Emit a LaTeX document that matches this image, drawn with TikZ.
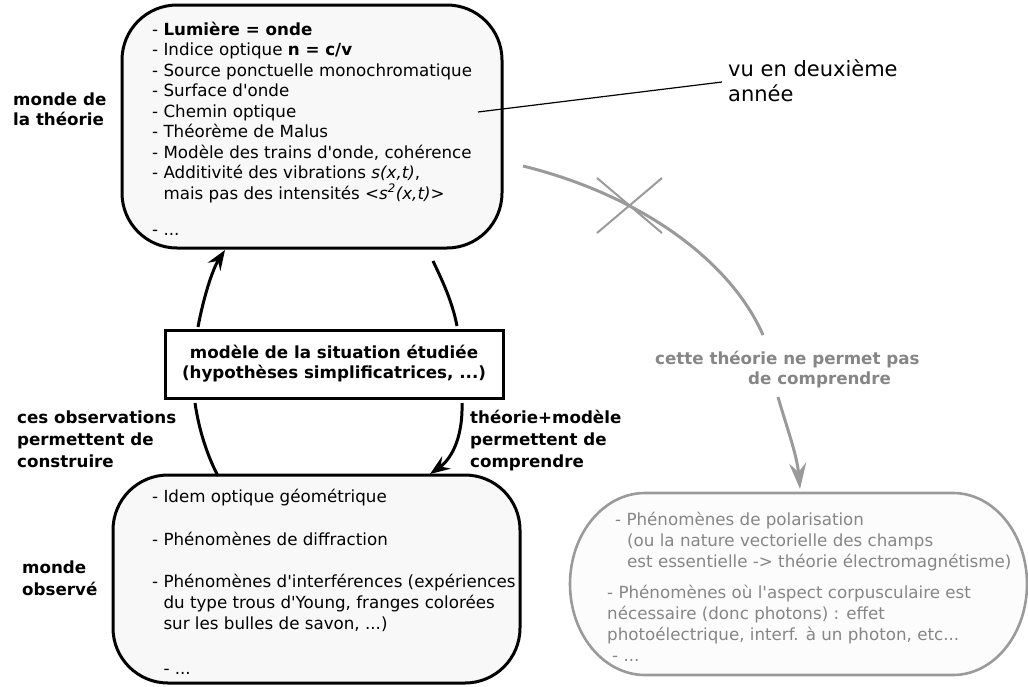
\documentclass[tikz,border=0pt]{standalone}
\usepackage{fontspec}
\setmainfont{DejaVu Sans}[Ligatures=TeXOff, BoldFont={DejaVu Sans Bold}, ItalicFont={DejaVu Sans Oblique}, BoldItalicFont={DejaVu Sans Bold Oblique}]
\usetikzlibrary{arrows.meta}
\definecolor{lgray}{HTML}{9A9A9A}
\definecolor{tgray}{HTML}{868686}
\definecolor{boxfill}{HTML}{F8F8F8}
\definecolor{pfill}{HTML}{FCFCFC}
\newcommand{\fl}{\rule{0pt}{14pt}}
\begin{document}
\begin{tikzpicture}[x=1pt,y=-1pt,
  bigbox/.style={draw, line width=3pt, fill=boxfill, rounded corners=55pt, inner sep=0pt, outer sep=0pt},
  txt/.style={inner sep=0pt, anchor=north west, align=left},
  lbl/.style={inner sep=0pt, anchor=north west, align=left},
  arr/.style={line width=3pt, -{Stealth[length=20pt,width=15pt,inset=7pt]}},
  plain/.style={line width=3pt},
  garr/.style={line width=3pt, lgray, -{Stealth[length=26pt,width=17pt,inset=9pt]}}
]
\useasboundingbox (0,0) rectangle (1028,686);

% boxes
\node[bigbox, minimum width=380pt, minimum height=243pt] (theo) at (312,126.5) {};
\node[bigbox, minimum width=407pt, minimum height=208pt] (obs) at (316.5,579) {};
\node[draw, line width=3pt, fill=white, minimum width=338pt, minimum height=68pt, inner sep=0pt] (model) at (334,364) {};
\draw[line width=2.6pt, lgray, fill=pfill] (645,493) -- (953,493)
  arc[start angle=-90, end angle=90, x radius=74, y radius=91] -- (645,675)
  arc[start angle=90, end angle=270, x radius=75, y radius=91] -- cycle;

% texts
\node[txt, font=\fontsize{16.7}{20.5}\selectfont] (tlist) at (152,21) {\fl- \textbf{Lumière = onde}\\
- Indice optique \textbf{n = c/v}\\
- Source ponctuelle monochromatique\\
- Surface d'onde\\
- Chemin optique\\
- Théorème de Malus\\
- Modèle des trains d'onde, cohérence\\
- Additivité des vibrations \textit{s(x,t)},\\
\hphantom{- }mais pas des intensités \textit{<s\textsuperscript{2}(x,t)>}\\[15.5pt]
- ...};

\node[txt, font=\fontsize{16.7}{21}\selectfont] (olist) at (152,488) {\fl- Idem optique géométrique\\[22pt]
- Phénomènes de diffraction\\[21pt]
- Phénomènes d'interférences (expériences\\
\hphantom{- }du type trous d'Young, franges colorées\\
\hphantom{- }sur les bulles de savon, ...)\\[24pt]
\hphantom{- }- ...};

\node[txt, text=tgray, font=\fontsize{16.7}{21}\selectfont] (plist) at (607,511) {\fl\hspace*{8pt}- Phénomènes de polarisation\\
\hspace*{20pt}(ou la nature vectorielle des champs\\
\hspace*{20pt}est essentielle -> théorie électromagnétisme)\\[10pt]
- Phénomènes où l'aspect corpusculaire est\\
nécessaire (donc photons) : effet\\
photoélectrique, interf. à un photon, etc...\\
\hspace*{5pt}- ...};

\node[lbl, font=\fontsize{16.7}{20}\selectfont\bfseries] (lth) at (13,91) {\fl monde de\\la théorie};
\node[lbl, font=\fontsize{16.7}{22}\selectfont\bfseries] (lobs) at (22,559) {\fl monde\\observé};
\node[lbl, font=\fontsize{16.7}{22}\selectfont\bfseries] (lces) at (17,409) {\fl ces observations\\permettent de\\construire};
\node[lbl, font=\fontsize{16.7}{22}\selectfont\bfseries] (lthm) at (470,409) {\fl théorie+modèle\\permettent de\\comprendre};
\node[inner sep=0pt, anchor=north, align=center, font=\fontsize{16.7}{20}\selectfont\bfseries] (lmod) at (334,344) {\fl modèle de la situation étudiée\\(hypothèses simplificatrices, ...)};
\node[lbl, text=tgray, font=\fontsize{16.7}{20}\selectfont\bfseries] (lnot) at (655,350) {\fl cette théorie ne permet pas\\\hspace*{93pt}de comprendre};
\node[lbl, font=\fontsize{21}{25}\selectfont] (lvu) at (728,58) {\rule{0pt}{18pt}vu en deuxième\\année};

% coordinates
\coordinate (m1) at (198,327);
\coordinate (t1) at (225,250);
\coordinate (t2) at (433,261);
\coordinate (m2) at (457,326);
\coordinate (m3) at (195,403);
\coordinate (o1) at (218,476);
\coordinate (m4) at (462,403);
\coordinate (o2) at (430,474);
\coordinate (g1) at (523,166);
\coordinate (g2) at (763,335);
\coordinate (g3) at (778,397);
\coordinate (pol) at (800,489);
\coordinate (vs) at (478,112);
\coordinate (vu) at (722,82);

% connectors
\draw[arr] (m1) .. controls (203,300) and (212,270) .. (t1);
\draw[plain] (t2) .. controls (441,278) and (452,300) .. (m2);
\draw[plain] (m3) .. controls (199,430) and (207,455) .. (o1);
\draw[arr] (m4) .. controls (463,440) and (450,460) .. (o2);
\draw[line width=3pt, lgray] (g1) .. controls (640,195) and (730,260) .. (g2);
\draw[garr] (g3) .. controls (786,425) and (797,455) .. (pol);
\draw[line width=1.2pt] (vs) -- (vu);
% cross
\draw[lgray, line width=2pt] (597,178) -- (662,233) (662,178) -- (597,233);
\end{tikzpicture}
\end{document}
